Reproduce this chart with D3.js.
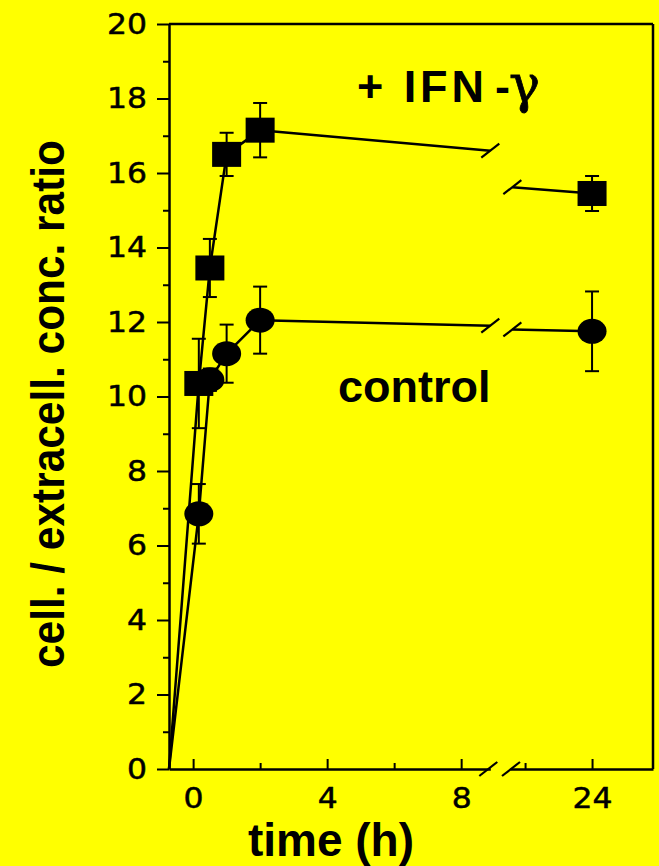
<!DOCTYPE html>
<html>
<head>
<meta charset="utf-8">
<script src="https://cdn.jsdelivr.net/npm/d3@7"></script>
<style>
  html, body { margin: 0; padding: 0; background: #ffff00; }
  svg { display: block; }
</style>
</head>
<body>
<script>
// ---- data ----
const times = [-0.72, 0.17, 0.5, 1, 2];          // early time course (h)
const lateTime = 24;                              // after the axis break
const ifnValues = [0, 10.35, 13.45, 16.5, 17.15];
const ifnErrors = [0, 1.2, 0.78, 0.58, 0.73];
const ifnLate = 15.45, ifnLateErr = 0.47;
const ctrlValues = [0, 6.85, 10.45, 11.15, 12.05];
const ctrlErrors = [0, 0.8, 0.3, 0.78, 0.9];
const ctrlLate = 11.75, ctrlLateErr = 1.07;
// connector ends at the break
const breakTimes = [8.87, 21.62];
const ifnBreak = [16.6, 15.62];
const ctrlBreak = [11.9, 11.8];
const yTicks = [0, 2, 4, 6, 8, 10, 12, 14, 16, 18, 20];
const yMinor = [1, 3, 5, 7, 9, 11, 13, 15, 17, 19];
const xTicksA = [0, 4, 8];
const xMinorA = [2, 6];
const xTicksB = [24];
const xMinorB = [22];

const W = 659, H = 866;
const svg = d3.select("body").append("svg").attr("width", W).attr("height", H);
svg.append("rect").attr("width", W).attr("height", H).attr("fill", "#ffff00");

const y = d3.scaleLinear().domain([0, 20]).range([769, 24]);
const xA = d3.scaleLinear().domain([-0.72, 8.87]).range([169, 490.3]);
const xB = d3.scaleLinear().domain([21.55, 25.82]).range([510, 653]);

const LW = 2.5;
const tickFont = "'DejaVu Sans', sans-serif";
const fmt = d3.format("d");

// frame (top and right)
svg.append("line").attr("x1", xA.range()[0]).attr("x2", xB.range()[1])
  .attr("y1", y(20)).attr("y2", y(20)).attr("stroke", "#000").attr("stroke-width", LW);
svg.append("line").attr("x1", xB.range()[1]).attr("x2", xB.range()[1])
  .attr("y1", y(20)).attr("y2", y(0)).attr("stroke", "#000").attr("stroke-width", LW);

// y axis
const gy = svg.append("g").attr("transform", `translate(${xA.range()[0]},0)`)
  .call(d3.axisLeft(y).tickValues(yTicks).tickFormat(fmt).tickSize(12).tickPadding(10).tickSizeOuter(0));
svg.append("g").attr("transform", `translate(${xA.range()[0]},0)`)
  .call(d3.axisLeft(y).tickValues(yMinor).tickSize(6).tickFormat("").tickSizeOuter(0))
  .select(".domain").remove();

// x axis (two segments)
function xAxis(scale, major, minor) {
  const g = svg.append("g").attr("transform", `translate(0,${y(0)})`)
    .call(d3.axisBottom(scale).tickValues(major).tickFormat(fmt).tickSize(-10).tickPadding(18).tickSizeOuter(0));
  svg.append("g").attr("transform", `translate(0,${y(0)})`)
    .call(d3.axisBottom(scale).tickValues(minor).tickSize(-6).tickFormat("").tickSizeOuter(0))
    .select(".domain").remove();
  return g;
}
const gxA = xAxis(xA, xTicksA, xMinorA);
const gxB = xAxis(xB, xTicksB, xMinorB);

svg.selectAll(".domain").attr("stroke-width", LW);
svg.selectAll(".tick line").attr("stroke-width", 2);
svg.selectAll(".tick text")
  .attr("font-family", tickFont).attr("font-size", 29).attr("fill", "#000")
  .attr("stroke", "#000").attr("stroke-width", 0.5);
[gy, gxA, gxB].forEach(g => g.selectAll(".tick text")
  .attr("textLength", d => fmt(d).length * 20)
  .attr("lengthAdjust", "spacingAndGlyphs"));

// break slashes
function slash(cx, cy) {
  svg.append("line").attr("x1", cx - 9).attr("y1", cy + 7).attr("x2", cx + 9).attr("y2", cy - 7)
    .attr("stroke", "#000").attr("stroke-width", 2.2);
}
slash(xA.range()[1] - 2, y(0));
slash(xB.range()[0] + 1, y(0));

// series
function series(vals, errs, late, lateErr, brk, shape) {
  const pts = times.map((t, i) => [xA(t), y(vals[i]), errs[i]]);
  const line = d3.line();
  svg.append("path").attr("d", line(pts.map(p => [p[0], p[1]]).concat([[xA(breakTimes[0]), y(brk[0])]])))
    .attr("fill", "none").attr("stroke", "#000").attr("stroke-width", 2.5).attr("stroke-linejoin", "round");
  svg.append("path").attr("d", line([[xB(breakTimes[1]), y(brk[1])], [xB(lateTime), y(late)]]))
    .attr("fill", "none").attr("stroke", "#000").attr("stroke-width", 2.5);
  slash(xA(breakTimes[0]), y(brk[0]));
  slash(xB(breakTimes[1]), y(brk[1]));
  const all = pts.slice(1).concat([[xB(lateTime), y(late), lateErr]]);
  const allV = vals.slice(1).concat([late]);
  all.forEach((p, i) => {
    const v = allV[i], e = p[2];
    const g = svg.append("g");
    g.append("line").attr("x1", p[0]).attr("x2", p[0]).attr("y1", y(v + e)).attr("y2", y(v - e))
      .attr("stroke", "#000").attr("stroke-width", 2);
    [v + e, v - e].forEach(c => g.append("line").attr("x1", p[0] - 7).attr("x2", p[0] + 7)
      .attr("y1", y(c)).attr("y2", y(c)).attr("stroke", "#000").attr("stroke-width", 2));
    if (shape === "square") {
      g.append("rect").attr("x", p[0] - 14.5).attr("y", p[1] - 12.5).attr("width", 29).attr("height", 25)
        .attr("fill", "#000");
    } else {
      g.append("ellipse").attr("cx", p[0]).attr("cy", p[1]).attr("rx", 14.5).attr("ry", 12.5)
        .attr("fill", "#000");
    }
  });
}
series(ctrlValues, ctrlErrors, ctrlLate, ctrlLateErr, ctrlBreak, "circle");
series(ifnValues, ifnErrors, ifnLate, ifnLateErr, ifnBreak, "square");

// labels
const lab = "'Liberation Sans', Arial, sans-serif";
const ifnText = svg.append("text").attr("y", 102).attr("font-family", lab).attr("font-weight", "bold")
  .attr("font-size", 45);
ifnText.append("tspan").attr("x", 357).attr("textLength", 127).attr("lengthAdjust", "spacing").text("+ IFN");
ifnText.append("tspan").attr("x", 495).text("-");
ifnText.append("tspan").attr("x", 509).attr("font-family", "'DejaVu Serif', serif").attr("font-weight", "normal")
  .attr("font-size", 52).attr("stroke", "#000").attr("stroke-width", 0.8).text("γ");
svg.append("text").attr("x", 338).attr("y", 402).attr("font-family", lab).attr("font-weight", "bold")
  .attr("font-size", 45).text("control");
svg.append("text").attr("x", 331).attr("y", 856).attr("text-anchor", "middle").attr("font-family", lab)
  .attr("font-weight", "bold").attr("font-size", 46).text("time (h)");
svg.append("text").attr("transform", "translate(64,404) rotate(-90)").attr("text-anchor", "middle")
  .attr("font-family", lab).attr("font-weight", "bold").attr("font-size", 46)
  .attr("textLength", 528).attr("lengthAdjust", "spacingAndGlyphs")
  .text("cell. / extracell. conc. ratio");
</script>
</body>
</html>
